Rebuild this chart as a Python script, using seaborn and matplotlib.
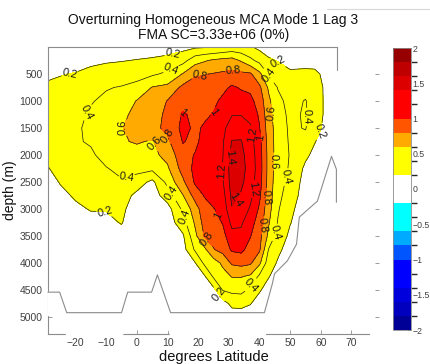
import numpy as np
import matplotlib
matplotlib.use("Agg")
import matplotlib.pyplot as plt
import seaborn as sns
from matplotlib.colors import ListedColormap, BoundaryNorm
from matplotlib.cm import ScalarMappable
from matplotlib.lines import Line2D

# ---------------- data ----------------
lats = [-29, -25, -20, -15, -10, -5, 0, 5, 10, 15, 19, 22, 25, 28, 31, 34,
        37, 40, 43, 46, 50, 55, 58, 61, 65]
depths = [0, 250, 500, 750, 1000, 1250, 1500, 1750, 2000, 2250, 2500, 2750,
          3000, 3250, 3500, 3750, 4000, 4250, 4500, 4750, 5000]

# overturning value profiles, one list per latitude (top to bottom)
psi_by_lat = [
    [0.02, 0.09, 0.17, 0.23, 0.28, 0.31, 0.33, 0.31, 0.25, 0.19, 0.14, 0.11, 0.09, 0.07, 0.06, 0.05, 0.04, 0.04, 0.03, 0.03, 0.03],
    [0.03, 0.11, 0.19, 0.25, 0.30, 0.34, 0.36, 0.35, 0.32, 0.27, 0.21, 0.16, 0.12, 0.09, 0.07, 0.06, 0.05, 0.04, 0.04, 0.03, 0.03],
    [0.04, 0.13, 0.21, 0.27, 0.32, 0.36, 0.38, 0.38, 0.36, 0.32, 0.27, 0.22, 0.17, 0.12, 0.09, 0.07, 0.06, 0.05, 0.04, 0.04, 0.03],
    [0.05, 0.16, 0.25, 0.32, 0.39, 0.42, 0.43, 0.42, 0.37, 0.32, 0.28, 0.24, 0.21, 0.15, 0.11, 0.08, 0.06, 0.05, 0.04, 0.04, 0.03],
    [0.06, 0.18, 0.28, 0.39, 0.43, 0.46, 0.49, 0.50, 0.47, 0.39, 0.33, 0.26, 0.21, 0.16, 0.12, 0.09, 0.07, 0.05, 0.05, 0.04, 0.04],
    [0.07, 0.19, 0.32, 0.41, 0.48, 0.55, 0.59, 0.58, 0.52, 0.45, 0.38, 0.29, 0.24, 0.21, 0.14, 0.10, 0.08, 0.06, 0.05, 0.05, 0.04],
    [0.08, 0.21, 0.34, 0.45, 0.61, 0.66, 0.69, 0.62, 0.52, 0.47, 0.30, 0.15, 0.10, 0.08, 0.07, 0.06, 0.05, 0.05, 0.04, 0.04, 0.04],
    [0.09, 0.23, 0.37, 0.61, 0.66, 0.72, 0.74, 0.58, 0.55, 0.45, 0.15, 0.10, 0.08, 0.07, 0.06, 0.06, 0.05, 0.05, 0.04, 0.04, 0.04],
    [0.11, 0.26, 0.44, 0.65, 0.81, 0.84, 0.85, 0.76, 0.66, 0.57, 0.46, 0.30, 0.12, 0.09, 0.08, 0.07, 0.06, 0.06, 0.05, 0.05, 0.05],
    [0.14, 0.33, 0.61, 0.85, 0.93, 1.02, 1.05, 1.01, 0.94, 0.88, 0.76, 0.59, 0.44, 0.32, 0.17, 0.12, 0.09, 0.07, 0.06, 0.05, 0.05],
    [0.17, 0.52, 0.78, 0.88, 0.93, 0.96, 0.97, 0.96, 1.01, 1.05, 1.03, 0.88, 0.70, 0.63, 0.55, 0.43, 0.19, 0.12, 0.08, 0.06, 0.05],
    [0.18, 0.58, 0.79, 0.88, 0.93, 0.97, 1.02, 1.06, 1.09, 1.10, 1.07, 1.01, 0.93, 0.87, 0.81, 0.55, 0.44, 0.17, 0.10, 0.07, 0.06],
    [0.19, 0.63, 0.81, 0.90, 0.96, 1.01, 1.07, 1.11, 1.14, 1.15, 1.13, 1.08, 0.99, 0.92, 0.86, 0.79, 0.50, 0.43, 0.14, 0.08, 0.06],
    [0.22, 0.66, 0.83, 0.95, 1.04, 1.10, 1.15, 1.18, 1.19, 1.21, 1.18, 1.12, 1.06, 1.01, 0.93, 0.87, 0.64, 0.52, 0.41, 0.12, 0.07],
    [0.26, 0.68, 0.85, 1.03, 1.12, 1.19, 1.30, 1.41, 1.46, 1.50, 1.49, 1.45, 1.39, 1.25, 1.14, 1.03, 0.83, 0.61, 0.45, 0.25, 0.10],
    [0.25, 0.58, 0.84, 0.98, 1.09, 1.19, 1.33, 1.41, 1.45, 1.47, 1.44, 1.38, 1.31, 1.23, 1.15, 1.05, 0.86, 0.61, 0.46, 0.26, 0.10],
    [0.22, 0.45, 0.83, 0.96, 1.05, 1.13, 1.23, 1.28, 1.31, 1.32, 1.30, 1.25, 1.18, 1.07, 1.01, 0.92, 0.83, 0.57, 0.36, 0.21, 0.10],
    [0.15, 0.34, 0.65, 0.84, 0.92, 0.97, 1.01, 1.06, 1.09, 1.10, 1.08, 1.04, 0.97, 0.92, 0.87, 0.83, 0.64, 0.36, 0.22, 0.12, 0.08],
    [0.10, 0.23, 0.38, 0.57, 0.64, 0.67, 0.70, 0.72, 0.73, 0.73, 0.72, 0.70, 0.67, 0.62, 0.55, 0.39, 0.29, 0.21, 0.12, 0.08, 0.06],
    [0.07, 0.19, 0.30, 0.39, 0.45, 0.48, 0.50, 0.50, 0.50, 0.49, 0.47, 0.45, 0.42, 0.39, 0.32, 0.24, 0.18, 0.12, 0.08, 0.06, 0.05],
    [0.05, 0.14, 0.23, 0.30, 0.34, 0.36, 0.37, 0.38, 0.39, 0.38, 0.35, 0.31, 0.25, 0.21, 0.16, 0.12, 0.09, 0.06, 0.05, 0.04, 0.04],
    [0.05, 0.14, 0.24, 0.33, 0.41, 0.42, 0.41, 0.34, 0.24, 0.16, 0.12, 0.10, 0.08, 0.07, 0.06, 0.05, 0.04, 0.04, 0.04, 0.03, 0.03],
    [0.04, 0.13, 0.24, 0.29, 0.31, 0.31, 0.28, 0.21, 0.15, 0.12, 0.10, 0.08, 0.07, 0.06, 0.05, 0.05, 0.04, 0.04, 0.03, 0.03, 0.03],
    [0.03, 0.10, 0.17, 0.19, 0.19, 0.19, 0.17, 0.13, 0.10, 0.08, 0.07, 0.06, 0.05, 0.05, 0.04, 0.04, 0.03, 0.03, 0.03, 0.03, 0.03],
    [0.02, 0.05, 0.08, 0.10, 0.10, 0.10, 0.09, 0.08, 0.07, 0.06, 0.05, 0.05, 0.04, 0.04, 0.03, 0.03, 0.03, 0.03, 0.03, 0.03, 0.03],
]

# sea-floor outline
bathy_lat = [-29, -25.2, -22.9, -5.0, -3.0, 4.8, 6.7, 11.0, 41.6, 44.2, 44.9,
             49.1, 52.1, 53.0, 58.9, 63.5, 65.1, 65.1]
bathy_depth = [4540, 4540, 4920, 4920, 4540, 4540, 4220, 4920, 4920, 4385,
               4200, 3960, 3650, 3150, 2855, 2025, 2265, 2875]
sill_lat = [65.3, 65.3]
sill_depth = [0, 430]

contour_levels = [-2.0, -1.8, -1.6, -1.4, -1.2, -1.0, -0.8, -0.6, -0.4, -0.2,
                  0.0, 0.2, 0.4, 0.6, 0.8, 1.0, 1.2, 1.4, 1.6, 1.8, 2.0]
band_colors = ['#000096', '#0000BE', '#0000DC', '#0000FF', '#0000FF',
               '#0055FF', '#00AAFF', '#00FFFF', '#00FFFF', '#FFFFFF',
               '#FFFFFF', '#FFFF00', '#FFFF00', '#FFAA00', '#FF5500',
               '#FF0000', '#FF0000', '#DC0000', '#BE0000', '#960000']
cbar_ticks = [-2, -1.5, -1, -0.5, 0, 0.5, 1, 1.5, 2]
xticks = [-20, -10, 0, 10, 20, 30, 40, 50, 60, 70]
yticks = [500, 1000, 1500, 2000, 2500, 3000, 3500, 4000, 4500, 5000]

# where the contour labels sit (lat, depth)
label_spots = [(-22, 476), (12, 200), (11, 390), (46, 290), (42.6, 550),
               (44.2, 1215), (54.7, 1290), (60.5, 1585), (43.9, 2120),
               (48.8, 2410), (42.3, 2780), (40.8, 3300), (46.2, 3450),
               (37.4, 4420), (27, 4570), (24, 3500), (27, 3100),
               (32.2, 2820), (38.4, 2635), (31.2, 2050), (27.9, 2300),
               (37.7, 1620), (40.5, 1680), (25.3, 1215), (20.4, 550),
               (31.2, 550), (13.3, 1160), (-4.7, 1490), (-16.4, 1200),
               (6.7, 1750), (11, 1600), (-3.4, 2395), (-10.5, 3100),
               (15.5, 3150), (10, 2760)]

# ---------------- style ----------------
sns.set_theme(style="white")
plt.rcParams['font.family'] = ['Liberation Sans', 'DejaVu Sans']
GRAY = '#8c8c8c'

fig = plt.figure(figsize=(4.30, 3.64), dpi=100)
ax = fig.add_axes([48 / 430, 30 / 364, 331 / 430, 287 / 364])

Z = np.array(psi_by_lat).T
levels = np.array(contour_levels)
cmap = ListedColormap(band_colors)
norm = BoundaryNorm(levels, cmap.N)

ax.contourf(lats, depths, Z, levels=levels, cmap=cmap, norm=norm, zorder=1)
line_levels = levels[levels > 0.1]
cs = ax.contour(lats, depths, Z, levels=line_levels, colors='#1a1a1a',
                linewidths=0.5, zorder=2)
ax.clabel(cs, fmt=lambda v: f"{v:g}", fontsize=8, inline=True,
          inline_spacing=2, manual=label_spots)

# land
b_lat = np.array(bathy_lat)
b_dep = np.array(bathy_depth)
ax.fill_between(b_lat, b_dep, b_dep + 420, facecolor='white',
                edgecolor='white', linewidth=1.2, zorder=3, clip_on=False)
ax.plot(bathy_lat, bathy_depth, color=GRAY, lw=0.8, zorder=4, clip_on=False)
ax.plot(sill_lat, sill_depth, color=GRAY, lw=0.8, zorder=4, clip_on=False)

ax.set_xlim(-29, 79)
ax.set_ylim(5315, 0)
ax.set_xticks(xticks)
ax.set_yticks(yticks)

for s in ax.spines.values():
    s.set_color(GRAY)
    s.set_linewidth(0.8)
ax.spines['right'].set_visible(False)
ax.spines['top'].set_bounds(-29, 65.3)
ax.spines['bottom'].set_bounds(-29, 75.8)

ax.tick_params(direction='in', length=3, width=0.6, color=GRAY,
               labelsize=7.5, labelcolor='#404040', right=True, left=True,
               bottom=True, top=False, pad=3)
ax.tick_params(axis='y', pad=4)

ax.set_xlabel('degrees Latitude', fontsize=10.5, labelpad=1, color='#111111')
ax.set_ylabel('depth (m)', fontsize=10, labelpad=2, color='#111111')
ax.set_title('Overturning Homogeneous MCA Mode 1 Lag 3\nFMA SC=3.33e+06 (0%)',
             fontsize=10, pad=6, linespacing=1.1, color='#111111')

# colorbar
cax = fig.add_axes([393 / 430, 34 / 364, 18 / 430, 282 / 364])
sm = ScalarMappable(norm=norm, cmap=cmap)
cb = fig.colorbar(sm, cax=cax, ticks=cbar_ticks)
cb.outline.set_edgecolor(GRAY)
cb.outline.set_linewidth(0.6)
cb.ax.set_yticklabels([f"{t:g}".replace('-', '\u2212') for t in cbar_ticks])
cb.ax.tick_params(direction='in', length=3, width=0.6, color='#555555',
                  labelsize=6.3, labelcolor='#404040', pad=1)

fig.add_artist(Line2D([327 / 430, 1.0], [1 - 9 / 364, 1 - 9 / 364],
                      color='#d8d8d8', lw=0.8, transform=fig.transFigure))

fig.savefig('out.png', dpi=100, facecolor='white')
